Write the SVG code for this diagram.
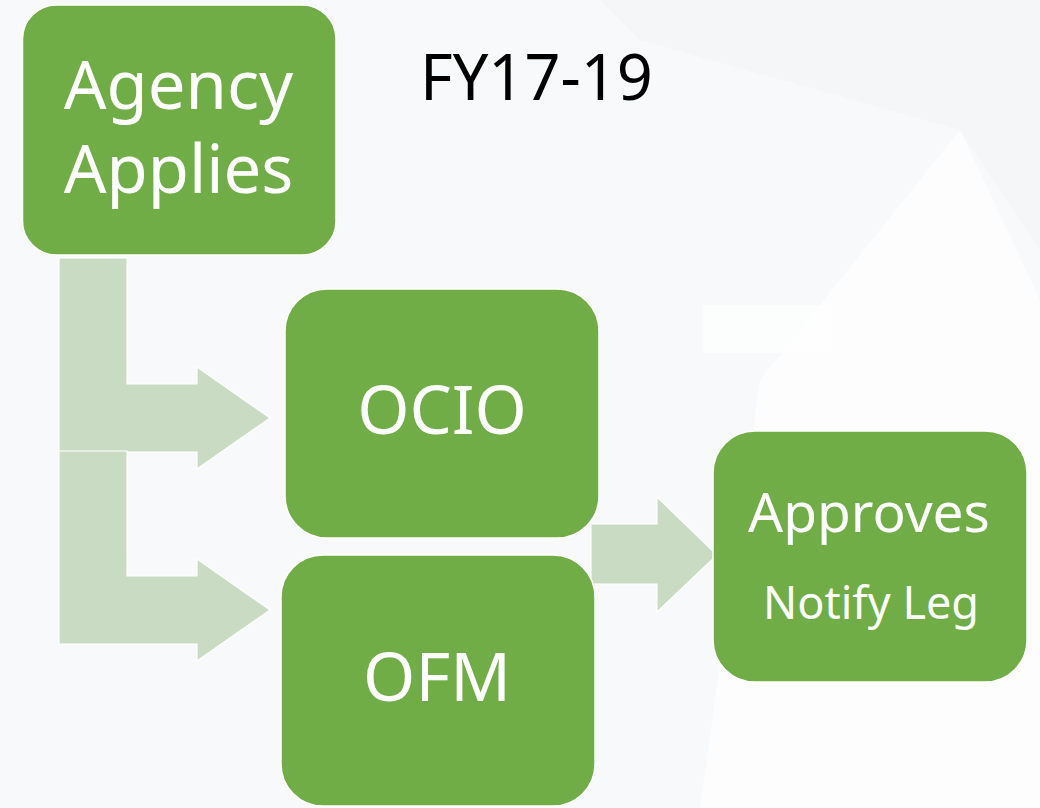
<svg xmlns="http://www.w3.org/2000/svg" width="1040" height="808" viewBox="0 0 1040 808">
<style>
.box{fill:#70AD47;stroke:#FFFFFF;stroke-width:1.5}
.arr{fill:#C9DCC3;stroke:#FFFFFF;stroke-width:1.2}
.t{font-family:"Noto Sans","Open Sans","DejaVu Sans",sans-serif;fill:#FFFFFF;text-anchor:middle}
</style>
<rect x="0" y="0" width="1040" height="808" fill="#F8F9FA"/>
<g id="background">
<polygon points="700,808 1040,808 1040,300 960,130 760,380" fill="#FDFDFD"/>
<polygon points="600,0 1040,0 1040,250 960,130 640,40" fill="#F4F5F7" opacity="0.7"/>
<rect x="703" y="305" width="130" height="48" fill="#FFFFFF" opacity="0.6"/>
</g>
<g id="connectors">
<polygon class="arr" points="59,258 127,258 127,384 197,384 197,367 270,418 197,469 197,452 59,452"/>
<polygon class="arr" points="59,451 127,451 127,576 197,576 197,559 270,610 197,661 197,644 59,644"/>
<polygon class="arr" points="591,524 657,524 657,497 717,555 657,612 657,584 591,584"/>
</g>
<g id="agency">
<rect class="box" x="22.5" y="5" width="313.5" height="250" rx="34"/>
<text class="t" x="178.5" y="109" font-size="67">Agency</text>
<text class="t" x="178.5" y="193" font-size="67">Applies</text>
</g>
<g id="title">
<text x="420" y="100" font-family="'Noto Sans','Open Sans','DejaVu Sans',sans-serif" font-size="63" fill="#000000">FY17-19</text>
</g>
<g id="ocio">
<rect class="box" x="285" y="289" width="314" height="249" rx="42"/>
<text class="t" x="442" y="434" font-size="67">OCIO</text>
</g>
<g id="ofm">
<rect class="box" x="281" y="555" width="314" height="251" rx="42"/>
<text class="t" x="437" y="701" font-size="67">OFM</text>
</g>
<g id="approves">
<rect class="box" x="713" y="431" width="314" height="251" rx="42"/>
<text class="t" x="869" y="532" font-size="55">Approves</text>
<text class="t" x="871" y="619" font-size="45">Notify Leg</text>
</g>
</svg>
